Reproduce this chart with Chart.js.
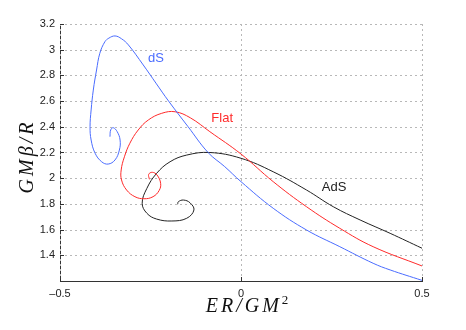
<!DOCTYPE html>
<html>
<head>
<meta charset="utf-8">
<script src="https://cdn.jsdelivr.net/npm/chart.js@4"></script>
<style>
  body { margin: 0; background: #fff; }
  #wrap { width: 466px; height: 330px; }
</style>
</head>
<body>
<div id="wrap"><canvas id="chart" width="466" height="330"></canvas></div>
<script>
// ================================
// DATA
// ================================
const dsX = [0.5, 0.412, 0.365, 0.273, 0.181, 0.089, 0, -0.045, -0.091, -0.146, -0.2, -0.235, -0.27, -0.311, -0.33, -0.348, -0.365, -0.376, -0.39, -0.399, -0.408, -0.414, -0.417, -0.414, -0.403, -0.385, -0.367, -0.348, -0.336, -0.334, -0.342, -0.353, -0.36, -0.362];
const dsY = [1.205, 1.286, 1.338, 1.467, 1.597, 1.766, 1.973, 2.09, 2.2, 2.4, 2.6, 2.74, 2.881, 3.037, 3.085, 3.107, 3.09, 3.062, 2.972, 2.842, 2.686, 2.531, 2.401, 2.297, 2.194, 2.128, 2.11, 2.142, 2.219, 2.297, 2.362, 2.393, 2.375, 2.323];

const flatX = [0.5, 0.365, 0.273, 0.181, 0.089, 0, -0.086, -0.14, -0.182, -0.219, -0.256, -0.284, -0.307, -0.322, -0.331, -0.33, -0.316, -0.293, -0.268, -0.243, -0.226, -0.222, -0.232, -0.245, -0.255, -0.253];
const flatY = [1.317, 1.467, 1.61, 1.778, 1.973, 2.188, 2.362, 2.47, 2.517, 2.505, 2.453, 2.375, 2.272, 2.167, 2.064, 1.986, 1.908, 1.856, 1.84, 1.856, 1.905, 1.96, 2.025, 2.046, 2.03, 1.991];

const adsX = [0.5, 0.412, 0.329, 0.255, 0.181, 0.089, 0, -0.086, -0.15, -0.196, -0.233, -0.26, -0.273, -0.26, -0.233, -0.191, -0.15, -0.13, -0.141, -0.159, -0.173, -0.175];
const adsY = [1.455, 1.571, 1.675, 1.778, 1.908, 2.05, 2.155, 2.2, 2.18, 2.128, 2.038, 1.921, 1.805, 1.727, 1.682, 1.667, 1.688, 1.753, 1.809, 1.83, 1.817, 1.797];

const xTicks = [-0.5, 0, 0.5];
const xTickLabels = ["\u20130.5", "0", "0.5"];
const yTicks = [1.4, 1.6, 1.8, 2, 2.2, 2.4, 2.6, 2.8, 3, 3.2];
const yTickLabels = ["1.4", "1.6", "1.8", "2", "2.2", "2.4", "2.6", "2.8", "3", "3.2"];

const curveNames = ["dS", "Flat", "AdS"];
const curveColors = ["#4a6cff", "#ff2a2a", "#222222"];
const nameX = [-0.235, -0.052, 0.257];
const nameY = [2.935, 2.468, 1.931];

function toPoints(xs, ys) {
    return xs.map((x, i) => ({ x: x, y: ys[i] }));
}

// ================================
// DOTTED GRID + INWARD TICKS
// ================================
const matlabGrid = {
    id: "matlabGrid",
    beforeDatasetsDraw(chart) {
        const ctx = chart.ctx;
        const a = chart.chartArea;
        const xs = chart.scales.x, ys = chart.scales.y;
        ctx.save();
        ctx.lineWidth = 1;
        ctx.strokeStyle = "#b8b8b8";
        ctx.setLineDash([2, 3]);
        xTicks.forEach(v => {
            const px = Math.round(xs.getPixelForValue(v)) + 0.5;
            ctx.beginPath(); ctx.moveTo(px, a.bottom); ctx.lineTo(px, a.top); ctx.stroke();
        });
        yTicks.forEach(v => {
            const py = Math.round(ys.getPixelForValue(v)) + 0.5;
            ctx.beginPath(); ctx.moveTo(a.left, py); ctx.lineTo(a.right, py); ctx.stroke();
        });
        ctx.setLineDash([]);
        ctx.strokeStyle = "#333";
        xTicks.forEach(v => {
            const px = Math.round(xs.getPixelForValue(v)) + 0.5;
            ctx.beginPath(); ctx.moveTo(px, a.bottom); ctx.lineTo(px, a.bottom - 4); ctx.stroke();
        });
        yTicks.forEach(v => {
            const py = Math.round(ys.getPixelForValue(v)) + 0.5;
            ctx.beginPath(); ctx.moveTo(a.left, py); ctx.lineTo(a.left + 4, py); ctx.stroke();
        });
        ctx.restore();
    }
};

// ================================
// CURVE NAMES + AXIS TITLES
// ================================
const textLayer = {
    id: "textLayer",
    afterDatasetsDraw(chart) {
        const ctx = chart.ctx;
        const a = chart.chartArea;
        const xs = chart.scales.x, ys = chart.scales.y;
        ctx.save();
        ctx.font = "13px 'Liberation Sans', Arial, sans-serif";
        ctx.textAlign = "center";
        ctx.textBaseline = "middle";
        curveNames.forEach((name, i) => {
            ctx.fillStyle = curveColors[i];
            ctx.fillText(name, xs.getPixelForValue(nameX[i]), ys.getPixelForValue(nameY[i]));
        });

        // x title: ER/GM^2
        ctx.fillStyle = "#111";
        ctx.textAlign = "left";
        ctx.textBaseline = "alphabetic";
        ctx.letterSpacing = "3px";
        ctx.font = "italic 20px 'Liberation Serif', 'DejaVu Serif', serif";
        const main = "ER/GM";
        const wMain = ctx.measureText(main).width;
        ctx.font = "13px 'Liberation Serif', 'DejaVu Serif', serif";
        ctx.letterSpacing = "0px";
        const wSup = ctx.measureText("2").width;
        const cx = (a.left + a.right) / 2 + 6;
        const x0 = cx - (wMain + wSup) / 2;
        ctx.letterSpacing = "3px";
        ctx.font = "italic 20px 'Liberation Serif', 'DejaVu Serif', serif";
        ctx.fillText(main, x0, 312);
        ctx.letterSpacing = "0px";
        ctx.font = "13px 'Liberation Serif', 'DejaVu Serif', serif";
        ctx.fillText("2", x0 + wMain, 304);

        // y title: GMβ/R
        ctx.translate(28, (a.top + a.bottom) / 2 + 4);
        ctx.rotate(-Math.PI / 2);
        ctx.textAlign = "center";
        ctx.textBaseline = "middle";
        ctx.letterSpacing = "3px";
        ctx.font = "italic 20px 'Liberation Serif', 'DejaVu Serif', serif";
        ctx.fillText("GM\u03b2/R", 0, 0);
        ctx.restore();
    }
};

// ================================
// PLOT
// ================================
const tickFont = { family: "'Liberation Sans', Arial, sans-serif", size: 11 };
const borderStyle = { display: true, color: "#333", width: 1 };

new Chart(document.getElementById("chart").getContext("2d"), {
    type: "scatter",
    data: {
        datasets: [
            { label: "dS", data: toPoints(dsX, dsY) },
            { label: "Flat", data: toPoints(flatX, flatY) },
            { label: "AdS", data: toPoints(adsX, adsY) }
        ].map((d, i) => Object.assign(d, {
            showLine: true,
            borderColor: curveColors[i],
            borderWidth: 1,
            pointRadius: 0,
            tension: 0.4,
            fill: false
        }))
    },
    options: {
        responsive: false,
        animation: false,
        layout: { padding: { top: 24, right: 44, left: 0, bottom: 0 } },
        plugins: {
            legend: { display: false },
            tooltip: { enabled: false }
        },
        scales: {
            x: {
                type: "linear",
                min: -0.5,
                max: 0.5,
                afterBuildTicks: s => { s.ticks = xTicks.map(v => ({ value: v })); },
                afterFit: s => { s.height = 49; },
                ticks: {
                    padding: 6,
                    color: "#222",
                    font: tickFont,
                    maxRotation: 0,
                    callback: (v) => xTickLabels[xTicks.indexOf(v)]
                },
                grid: { display: false, drawTicks: false },
                border: borderStyle
            },
            y: {
                type: "linear",
                min: 1.2,
                max: 3.2,
                afterBuildTicks: s => { s.ticks = yTicks.map(v => ({ value: v })); },
                afterFit: s => { s.width = 60; },
                ticks: {
                    padding: 5,
                    color: "#222",
                    font: tickFont,
                    callback: (v) => yTickLabels[yTicks.indexOf(v)]
                },
                grid: { display: false, drawTicks: false },
                border: borderStyle
            }
        }
    },
    plugins: [matlabGrid, textLayer]
});
</script>
</body>
</html>
